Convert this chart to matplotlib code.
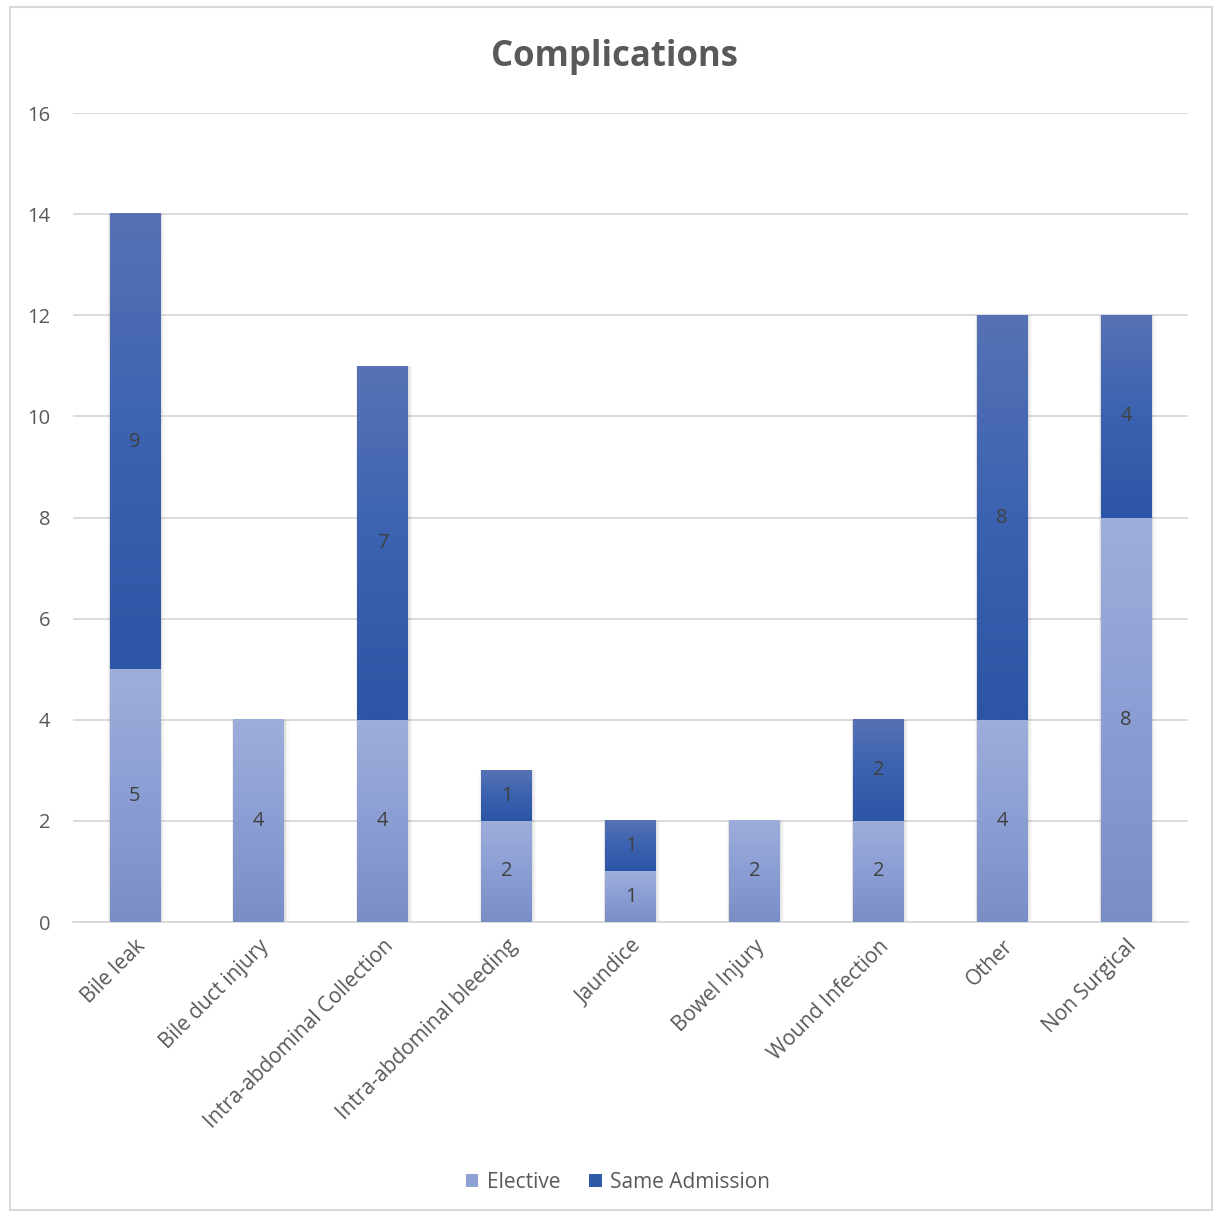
import numpy as np
import matplotlib
matplotlib.use("Agg")
import matplotlib.pyplot as plt
from matplotlib.colors import LinearSegmentedColormap
from matplotlib.patches import Patch, Rectangle

categories = ["Bile leak", "Bile duct injury", "Intra-abdominal Collection",
              "Intra-abdominal bleeding", "Jaundice", "Bowel Injury",
              "Wound Infection", "Other", "Non Surgical"]
elective = [5, 4, 4, 2, 1, 2, 2, 4, 8]
same_admission = [9, 0, 7, 1, 1, 0, 2, 8, 4]
yticks = [0, 2, 4, 6, 8, 10, 12, 14, 16]

plt.rcParams['font.family'] = ['Open Sans', 'DejaVu Sans']

fig = plt.figure(figsize=(12.14, 12.13), dpi=100)
ax = fig.add_axes([0.0601, 0.2399, 0.9185, 0.6669])

# gradients, top -> bottom
cm_el = LinearSegmentedColormap.from_list("el", ["#9eaedb", "#8b9ed4", "#7a8ec6"])
cm_sa = LinearSegmentedColormap.from_list("sa", ["#5672b5", "#3b62b0", "#2c55a5"])
grad = np.linspace(0, 1, 256).reshape(-1, 1)

x = np.arange(len(categories))
w = 0.41
b1 = ax.bar(x, elective, w, color="none", zorder=3)
b2 = ax.bar(x, same_admission, w, bottom=elective, color="none", zorder=3)

for bars, cmap, vals in [(b1, cm_el, elective), (b2, cm_sa, same_admission)]:
    for r, v in zip(bars, vals):
        if v == 0:
            continue
        x0, y0 = r.get_x(), r.get_y()
        # soft shadow
        for k, a in enumerate([0.06, 0.04, 0.02]):
            d = 0.012 * (k + 1)
            ax.add_patch(Rectangle((x0 - d * 0.4, y0), r.get_width() + d * 1.4, r.get_height(),
                                   facecolor="black", alpha=a, lw=0, zorder=2))
        ax.imshow(grad, extent=[x0, x0 + r.get_width(), y0, y0 + r.get_height()],
                  aspect="auto", cmap=cmap, origin="upper", zorder=3)
        ax.text(r.get_x() + r.get_width() / 2, y0 + r.get_height() / 2, str(v),
                ha="center", va="center", fontsize=14.5, color="#404040", zorder=4)

ax.set_xlim(-0.5, len(categories) - 0.5)
ax.set_ylim(0, 16)
ax.set_yticks(yticks)
ax.set_yticklabels([str(t) for t in yticks], fontsize=14.5, color="#595959")
ax.yaxis.grid(True, color="#d9d9d9", lw=1.3, zorder=0)
ax.set_axisbelow(True)
ax.tick_params(axis="y", length=0, pad=16.5)
ax.tick_params(axis="x", length=0, pad=10)
ax.set_xticks(x)
ax.set_xticklabels(categories, rotation=45, ha="right", rotation_mode="anchor",
                   fontsize=15, color="#595959")
for s in ["top", "right", "left"]:
    ax.spines[s].set_visible(False)
ax.spines["bottom"].set_color("#d9d9d9")
ax.spines["bottom"].set_linewidth(1.3)

fig.text(0.506, 0.953, "Complications", ha="center", va="center",
         fontsize=25, fontweight="bold", color="#595959")

handles = [Patch(facecolor="#8fa2d5", edgecolor="none", label="Elective"),
           Patch(facecolor="#2f5aa8", edgecolor="none", label="Same Admission")]
fig.legend(handles=handles, loc="center", bbox_to_anchor=(0.509, 0.025), ncol=2,
           frameon=False, fontsize=15, handlelength=0.6, handleheight=0.6,
           handletextpad=0.4, columnspacing=1.4, labelcolor="#595959")

fig.patches.append(Rectangle((0.008, 0.0025), 0.990, 0.992, transform=fig.transFigure,
                             facecolor="none", edgecolor="#d9d9d9", lw=1.5))

fig.savefig("out.png", dpi=100, facecolor="white")
